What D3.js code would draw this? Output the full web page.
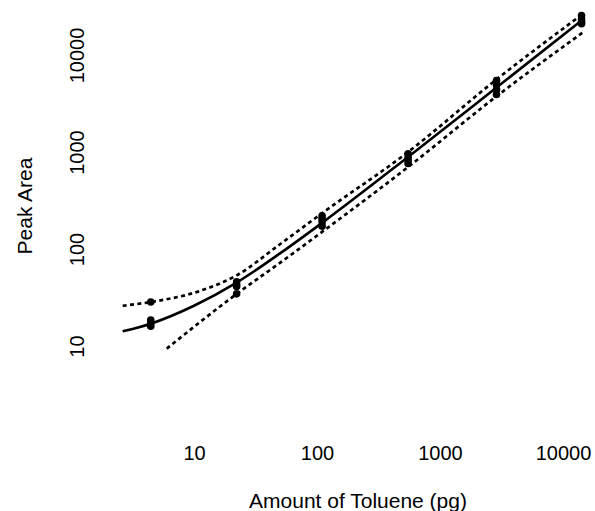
<!DOCTYPE html>
<html>
<head>
<meta charset="utf-8">
<script src="https://cdn.jsdelivr.net/npm/d3@7"></script>
<style>
  html, body { margin: 0; padding: 0; background: #fff; }
  svg { display: block; }
  text { font-family: "Liberation Sans", Arial, Helvetica, sans-serif; fill: #000; }
</style>
</head>
<body>
<svg id="chart" width="595" height="511"></svg>
<script>
// ---- data ----
const xTicks = [10, 100, 1000, 10000];
const yTicks = [10, 100, 1000, 10000];
const xTitle = "Amount of Toluene (pg)";
const yTitle = "Peak Area";

// replicate measurements
const obsAmount = [4.45, 4.45, 4.45, 4.45,
                   22.2, 22.2, 22.2, 22.2,
                   110, 110, 110, 110,
                   550, 550, 550, 550,
                   2880, 2880, 2880, 2880,
                   14150, 14150, 14150, 14150];
const obsArea = [28.4, 16, 17, 18.5,
                 46, 43, 41, 34.5,
                 220, 205, 190, 172,
                 960, 880, 820, 760,
                 5450, 4900, 4400, 3920,
                 25500, 23500, 22000, 21000];

// fitted calibration curve
const fitX = [2.63, 4.45, 10, 22.2, 50, 110, 550, 2880, 14500];
const fitY = [14.2, 17, 26, 45, 90, 186, 890, 4620, 23200];

// upper band
const upX = [2.63, 4.45, 11.2, 22.2, 50, 110, 550, 2880, 14500];
const upY = [26, 28.4, 37, 53.5, 112, 234, 1000, 5600, 26500];

// lower band
const loX = [6.0, 22.2, 50, 110, 550, 2880, 14700];
const loY = [9.4, 34.4, 72, 150, 700, 3750, 17300];

// ---- drawing ----
const svg = d3.select("#chart");
const x = d3.scaleLog().domain([10, 10000]).range([194, 563]);
const y = d3.scaleLog().domain([10, 10000]).range([346, 55]);

const line = d3.line()
  .x(d => x(d[0]))
  .y(d => y(d[1]))
  .curve(d3.curveMonotoneX);

const zip = (a, b) => a.map((v, i) => [v, b[i]]);

svg.append("path")
  .datum(zip(upX, upY))
  .attr("d", line)
  .attr("fill", "none")
  .attr("stroke", "#000")
  .attr("stroke-width", 2.7)
  .attr("stroke-dasharray", "4,3.4");

svg.append("path")
  .datum(zip(loX, loY))
  .attr("d", line)
  .attr("fill", "none")
  .attr("stroke", "#000")
  .attr("stroke-width", 2.7)
  .attr("stroke-dasharray", "4,3.4");

svg.append("path")
  .datum(zip(fitX, fitY))
  .attr("d", line)
  .attr("fill", "none")
  .attr("stroke", "#000")
  .attr("stroke-width", 2.6);

svg.append("g")
  .selectAll("circle")
  .data(zip(obsAmount, obsArea))
  .join("circle")
  .attr("cx", d => x(d[0]))
  .attr("cy", d => y(d[1]))
  .attr("r", 3.8)
  .attr("fill", "#000");

// x axis labels (no axis line, no ticks)
const xAxis = svg.append("g")
  .attr("transform", "translate(0,460)")
  .call(d3.axisBottom(x).tickValues(xTicks).tickSize(0).tickFormat(d3.format("d")));
xAxis.select(".domain").remove();
xAxis.selectAll("text")
  .attr("y", 0).attr("dy", 0)
  .style("font-size", "20px")
  .style("font-family", '"Liberation Sans", Arial, Helvetica, sans-serif')
  .attr("fill", "#000");

// y axis labels, rotated
const yAxis = svg.append("g")
  .attr("transform", "translate(84,0)")
  .call(d3.axisLeft(y).tickValues(yTicks).tickSize(0).tickFormat(d3.format("d")));
yAxis.select(".domain").remove();
yAxis.selectAll("text")
  .attr("x", 0).attr("y", 0).attr("dy", 0)
  .attr("text-anchor", "middle")
  .attr("transform", "rotate(-90)")
  .style("font-size", "20px")
  .style("font-family", '"Liberation Sans", Arial, Helvetica, sans-serif')
  .attr("fill", "#000");

// titles
svg.append("text")
  .attr("x", 358).attr("y", 508)
  .attr("text-anchor", "middle")
  .style("font-size", "21px")
  .text(xTitle);

svg.append("text")
  .attr("transform", "translate(32,206) rotate(-90)")
  .attr("text-anchor", "middle")
  .style("font-size", "21px")
  .text(yTitle);
</script>
</body>
</html>
